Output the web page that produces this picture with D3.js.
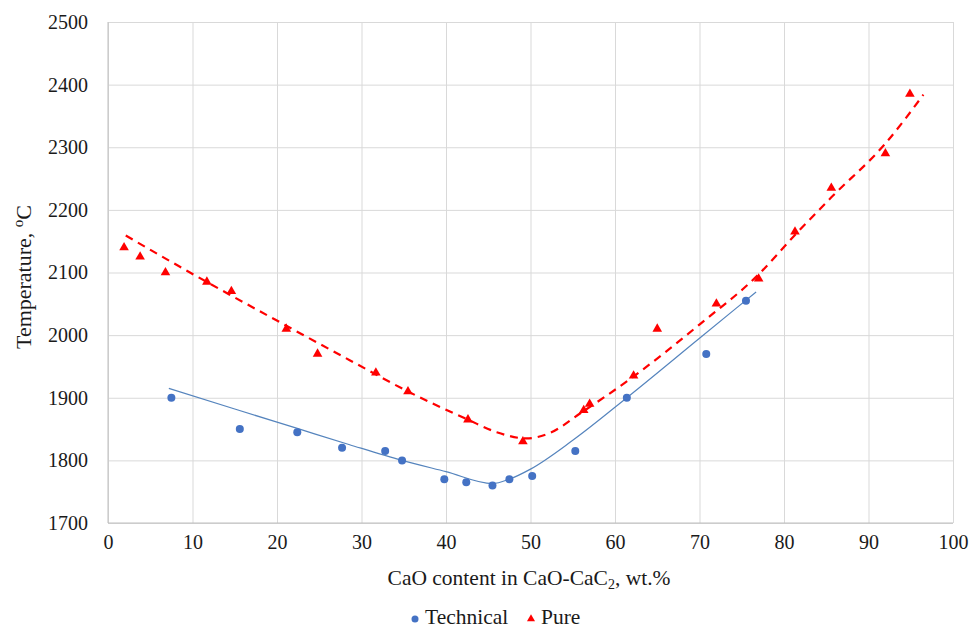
<!DOCTYPE html>
<html><head><meta charset="utf-8">
<script src="https://cdn.jsdelivr.net/npm/d3@7"></script>
<style>body{margin:0;background:#fff}svg{display:block}</style>
</head><body>
<svg id="c" width="970" height="630"></svg>
<script>
const technicalX = [7.5,15.6,22.4,27.7,32.8,34.8,39.8,42.4,45.5,47.5,50.2,55.3,61.4,70.8,75.5];
const technicalY = [1900,1850,1845,1820,1815,1800,1770,1765,1760,1770,1775,1815,1900,1970,2055];
const pureX = [1.9,3.8,6.8,11.7,14.6,21.1,24.8,31.7,35.5,42.6,49.1,56.3,57.0,62.2,65.0,72.0,77.0,81.3,85.6,92.0,94.9];
const pureY = [2140,2125,2100,2085,2070,2010,1970,1940,1910,1865,1830,1880,1890,1935,2010,2050,2090,2165,2235,2290,2385];
// trend lines
const techTrendX = [7.2,15,22.4,28.6,34.8,40,45.5,47.5,50,55,61.4,70,76.7];
const techTrendY = [1915,1882,1851,1825,1800,1782,1763,1770,1786,1832,1900,1995,2069];
const pureTrendX = [2.1,9.7,21.1,28.6,35.5,42.6,46,49.5,52,56.2,62,70.1,77,81.3,85.6,92,96.5];
const pureTrendY = [2159,2100,2015,1960,1910,1865,1845,1835,1842,1878,1932,2018,2097,2160,2220,2306,2384];
const xTicks = [0,10,20,30,40,50,60,70,80,90,100];
const yTicks = [1700,1800,1900,2000,2100,2200,2300,2400,2500];

const FONT = "Liberation Serif";
const svg = d3.select("#c");
const x = d3.scaleLinear().domain([0,100]).range([108,953]);
const y = d3.scaleLinear().domain([1700,2500]).range([523,22]);

function styleText(sel, size){
  sel.attr("font-family",FONT).style("font-family",FONT).attr("font-size",size).style("font-size",size+"px").attr("fill","#1a1a1a");
  return sel;
}

// grid
const gx = svg.append("g").attr("transform","translate(0,523)")
  .call(d3.axisBottom(x).tickValues(xTicks).tickSize(-501).tickFormat(d=>d).tickPadding(12));
gx.attr("font-family",FONT);
gx.select(".domain").remove();
gx.selectAll("line").attr("stroke","#d9d9d9").attr("stroke-width",1);
styleText(gx.selectAll("text"),20);
const gy = svg.append("g").attr("transform","translate(108,0)")
  .call(d3.axisLeft(y).tickValues(yTicks).tickSize(-845).tickFormat(d=>d).tickPadding(20));
gy.attr("font-family",FONT);
gy.select(".domain").remove();
gy.selectAll("line").attr("stroke","#d9d9d9").attr("stroke-width",1);
styleText(gy.selectAll("text"),20);
// axis lines
svg.append("line").attr("x1",108).attr("x2",108).attr("y1",22).attr("y2",523).attr("stroke","#bfbfbf");
svg.append("line").attr("x1",108).attr("x2",953).attr("y1",523).attr("y2",523).attr("stroke","#bfbfbf");

// trend lines
const line = d3.line().x(d=>x(d[0])).y(d=>y(d[1])).curve(d3.curveMonotoneX);
svg.append("path").datum(techTrendX.map((v,i)=>[v,techTrendY[i]]))
  .attr("d",line).attr("fill","none").attr("stroke","#5584bd").attr("stroke-width",1.2);
svg.append("path").datum(pureTrendX.map((v,i)=>[v,pureTrendY[i]]))
  .attr("d",line).attr("fill","none").attr("stroke","#ff0000").attr("stroke-width",2.2).attr("stroke-dasharray","8,6");

// points
svg.append("g").selectAll("circle").data(technicalX.map((v,i)=>[v,technicalY[i]])).join("circle")
  .attr("cx",d=>x(d[0])).attr("cy",d=>y(d[1])).attr("r",4).attr("fill","#4472c4");
const tri = d3.symbol().type(d3.symbolTriangle).size(40);
svg.append("g").selectAll("path").data(pureX.map((v,i)=>[v,pureY[i]])).join("path")
  .attr("transform",d=>`translate(${x(d[0])},${y(d[1])})`).attr("d",tri).attr("fill","#ff0000");

// axis titles
const xt = styleText(svg.append("text").attr("x",529).attr("y",585).attr("text-anchor","middle"),21.5);
xt.append("tspan").text("CaO content  in CaO-CaC");
xt.append("tspan").text("2").attr("font-size",14).style("font-size","14px").attr("dy",4);
xt.append("tspan").text(", wt.%").attr("dy",-4);
const yt = styleText(svg.append("text").attr("transform","translate(31,277) rotate(-90)").attr("text-anchor","middle"),22);
yt.append("tspan").text("Temperature,  ");
yt.append("tspan").text("o").attr("font-size",15).style("font-size","15px").attr("dy",-8);
yt.append("tspan").text("C").attr("dy",8);

// legend
svg.append("circle").attr("cx",415).attr("cy",619).attr("r",3.5).attr("fill","#4472c4");
styleText(svg.append("text").attr("x",425).attr("y",624),21.5).text("Technical");
svg.append("path").attr("transform","translate(531,619)").attr("d",d3.symbol().type(d3.symbolTriangle).size(28)).attr("fill","#ff0000");
styleText(svg.append("text").attr("x",541).attr("y",624),21.5).text("Pure");
</script>
</body></html>
